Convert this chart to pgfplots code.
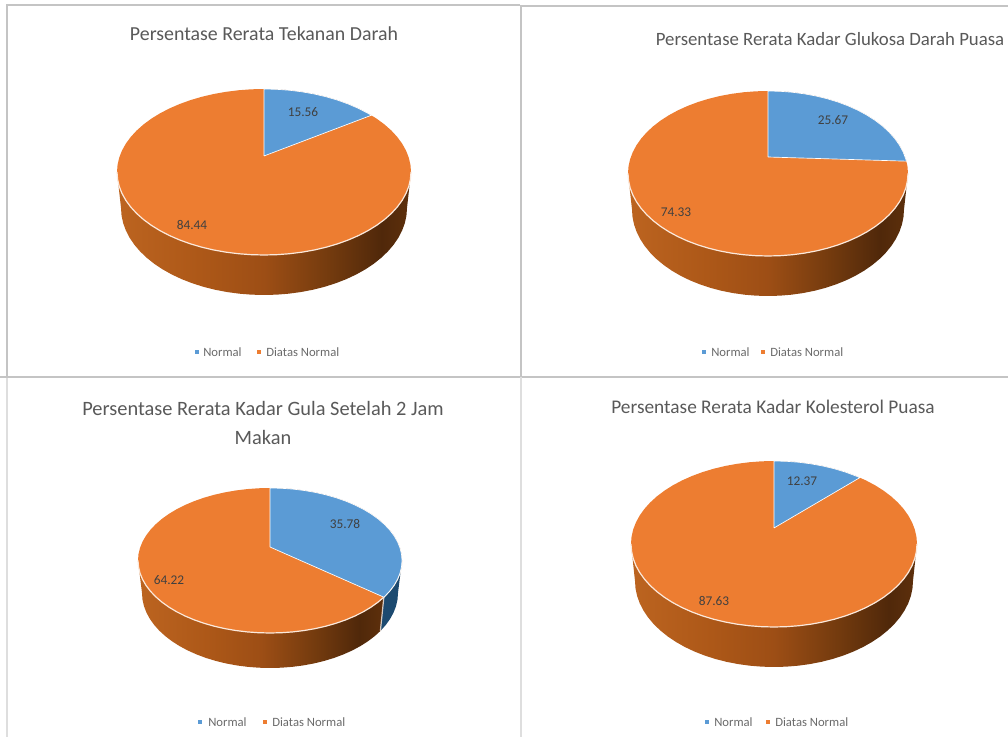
\documentclass[border=0pt]{standalone}
\usepackage{fontspec}
\setmainfont{Carlito}
\usepackage{pgfplots}
\pgfplotsset{compat=1.18}
\usepackage{pgfplotstable}

\definecolor{pieblue}{HTML}{5B9BD5}
\definecolor{pieorange}{HTML}{ED7D31}
\definecolor{bluedark}{HTML}{1C4A70}
\definecolor{rim}{HTML}{FBE9DC}
\definecolor{frame}{HTML}{C4C4C4}
\definecolor{framelow}{HTML}{DEDEDE}
\definecolor{titlecol}{HTML}{595959}
\definecolor{legcol}{HTML}{6A6A6A}
\definecolor{valcol}{HTML}{404040}
\definecolor{sa}{HTML}{BC6420}
\definecolor{sb}{HTML}{AD5818}
\definecolor{sc}{HTML}{9D4E15}
\definecolor{sd}{HTML}{723A0E}
\definecolor{se}{HTML}{50280A}
\definecolor{sf}{HTML}{5E300C}
\pgfdeclarehorizontalshading{pieside}{100bp}{color(0bp)=(sa); color(25bp)=(sa); color(39bp)=(sb); color(50bp)=(sc); color(61.5bp)=(sd); color(70bp)=(se); color(75bp)=(sf); color(100bp)=(sf)}

% t: angle clockwise from the top, r: share of the radius, s: 0 top rim, 1 bottom rim
\pgfplotstableread[row sep=\\]{t r s\\
0 1 0\\5 1 0\\10 1 0\\15 1 0\\20 1 0\\25 1 0\\30 1 0\\35 1 0\\40 1 0\\45 1 0\\50 1 0\\55 1 0\\60 1 0\\65 1 0\\70 1 0\\75 1 0\\80 1 0\\85 1 0\\
90 1 0\\95 1 0\\100 1 0\\105 1 0\\110 1 0\\115 1 0\\120 1 0\\125 1 0\\130 1 0\\135 1 0\\140 1 0\\145 1 0\\150 1 0\\155 1 0\\160 1 0\\165 1 0\\170 1 0\\175 1 0\\
180 1 0\\185 1 0\\190 1 0\\195 1 0\\200 1 0\\205 1 0\\210 1 0\\215 1 0\\220 1 0\\225 1 0\\230 1 0\\235 1 0\\240 1 0\\245 1 0\\250 1 0\\255 1 0\\260 1 0\\265 1 0\\
270 1 0\\275 1 0\\280 1 0\\285 1 0\\290 1 0\\295 1 0\\300 1 0\\305 1 0\\310 1 0\\315 1 0\\320 1 0\\325 1 0\\330 1 0\\335 1 0\\340 1 0\\345 1 0\\350 1 0\\355 1 0\\360 1 0\\
}\disc
\pgfplotstableread[row sep=\\]{t r s\\
90 1 0\\95 1 0\\100 1 0\\105 1 0\\110 1 0\\115 1 0\\120 1 0\\125 1 0\\130 1 0\\135 1 0\\140 1 0\\145 1 0\\150 1 0\\155 1 0\\160 1 0\\165 1 0\\170 1 0\\175 1 0\\
180 1 0\\185 1 0\\190 1 0\\195 1 0\\200 1 0\\205 1 0\\210 1 0\\215 1 0\\220 1 0\\225 1 0\\230 1 0\\235 1 0\\240 1 0\\245 1 0\\250 1 0\\255 1 0\\260 1 0\\265 1 0\\270 1 0\\
}\rimline
\pgfplotstableread[row sep=\\]{t r s\\
90 1 0\\90 1 1\\95 1 1\\100 1 1\\105 1 1\\110 1 1\\115 1 1\\120 1 1\\125 1 1\\130 1 1\\135 1 1\\140 1 1\\145 1 1\\150 1 1\\155 1 1\\160 1 1\\165 1 1\\170 1 1\\175 1 1\\
180 1 1\\185 1 1\\190 1 1\\195 1 1\\200 1 1\\205 1 1\\210 1 1\\215 1 1\\220 1 1\\225 1 1\\230 1 1\\235 1 1\\240 1 1\\245 1 1\\250 1 1\\255 1 1\\260 1 1\\265 1 1\\270 1 1\\270 1 0\\
}\sidefull
% third pie: the blue slice reaches round past the right edge
\pgfplotstableread[row sep=\\]{t r s\\
120.4 1 0\\120.4 1 1\\125 1 1\\130 1 1\\135 1 1\\140 1 1\\145 1 1\\150 1 1\\155 1 1\\160 1 1\\165 1 1\\170 1 1\\175 1 1\\
180 1 1\\185 1 1\\190 1 1\\195 1 1\\200 1 1\\205 1 1\\210 1 1\\215 1 1\\220 1 1\\225 1 1\\230 1 1\\235 1 1\\240 1 1\\245 1 1\\250 1 1\\255 1 1\\260 1 1\\265 1 1\\270 1 1\\270 1 0\\
}\sideorange
\pgfplotstableread[row sep=\\]{t r s\\
90 1 0\\90 1 1\\95 1 1\\100 1 1\\105 1 1\\110 1 1\\115 1 1\\120 1 1\\120.4 1 1\\120.4 1 0\\
}\sideblue
\pgfplotstableread[row sep=\\]{t r s\\
120.4 1 0\\120.4 1 1\\
}\sideedge

% blue slices, 15.56 / 25.67 / 35.78 / 12.37 read along the drawn ellipse
\pgfplotstableread[row sep=\\]{t r s\\
0 0.193 0\\0 1 0\\5 1 0\\10 1 0\\15 1 0\\20 1 0\\25 1 0\\30 1 0\\35 1 0\\40 1 0\\45 1 0\\46.9 1 0\\0 0.193 0\\
}\sliceA
\pgfplotstableread[row sep=\\]{t r s\\
0 0.2 0\\0 1 0\\5 1 0\\10 1 0\\15 1 0\\20 1 0\\25 1 0\\30 1 0\\35 1 0\\40 1 0\\45 1 0\\50 1 0\\55 1 0\\60 1 0\\65 1 0\\70 1 0\\75 1 0\\80 1 0\\81.4 1 0\\0 0.2 0\\
}\sliceB
\pgfplotstableread[row sep=\\]{t r s\\
0 0.186 0\\0 1 0\\5 1 0\\10 1 0\\15 1 0\\20 1 0\\25 1 0\\30 1 0\\35 1 0\\40 1 0\\45 1 0\\50 1 0\\55 1 0\\60 1 0\\65 1 0\\70 1 0\\75 1 0\\80 1 0\\85 1 0\\90 1 0\\95 1 0\\100 1 0\\105 1 0\\110 1 0\\115 1 0\\120 1 0\\120.4 1 0\\0 0.186 0\\
}\sliceC
\pgfplotstableread[row sep=\\]{t r s\\
0 0.193 0\\0 1 0\\5 1 0\\10 1 0\\15 1 0\\20 1 0\\25 1 0\\30 1 0\\35 1 0\\36.9 1 0\\0 0.193 0\\
}\sliceD

\newcommand{\setpie}[7]{\def\cx{#1}\def\cy{#2}\def\ra{#3}\def\rb{#4}\def\dep{#5}\def\rc{#6}\def\rd{#7}}
\newcommand{\piepart}[2]{\addplot[#1] table[
    x expr={\cx+(\ra+\thisrow{s}*(\rc-\ra))*\thisrow{r}*sin(\thisrow{t})},
    y expr={\cy+\thisrow{s}*\dep-(\rb+\thisrow{s}*(\rd-\rb))*\thisrow{r}*cos(\thisrow{t})}] {#2};}
\newcommand{\titlenode}[4]{\node[font=\fontsize{#3}{#3}\selectfont, text=titlecol, inner sep=0pt] at (axis cs:#1,#2) {#4};}
\newcommand{\legendrow}[5]{% y, blue marker x, Normal left x, orange marker x, Diatas left x
  \addplot[only marks, mark=square*, mark size=1.3pt, pieblue] coordinates {(#2,#1)};
  \addplot[only marks, mark=square*, mark size=1.3pt, pieorange] coordinates {(#4,#1)};
  \node[anchor=west, inner sep=0pt, font=\fontsize{9.5}{9.5}\selectfont, text=legcol] at (axis cs:#3,#1) {Normal};
  \node[anchor=west, inner sep=0pt, font=\fontsize{9.5}{9.5}\selectfont, text=legcol] at (axis cs:#5,#1) {Diatas Normal};
}
\newcommand{\val}[3]{\node[font=\fontsize{10}{10}\selectfont, text=valcol, inner sep=0pt] at (axis cs:#1,#2) {#3};}

\begin{document}
\begin{tikzpicture}
\useasboundingbox (0,0) rectangle (756pt,552.75pt);
\begin{axis}[
    at={(0,0)}, anchor=south west,
    scale only axis, width=756pt, height=552.75pt,
    xmin=0, xmax=1008, ymin=0, ymax=737, y dir=reverse,
    hide axis, clip=true,
  ]
  % panel frames
  \addplot[frame, line width=1.3pt] coordinates {(7,377) (7,5) (520,5)};
  \addplot[framelow, line width=1.3pt] coordinates {(7,377) (7,737)};
  \addplot[frame, line width=1.3pt] coordinates {(0,377) (1008,377)};
  \addplot[frame, line width=1pt] coordinates {(521,377) (521,6) (1008,6)};
  \addplot[framelow, line width=1pt] coordinates {(521,377) (521,737)};

  % Tekanan Darah
  \setpie{264}{172}{147}{83}{36}{143}{87}
  \piepart{draw=none, shade, shading=pieside}{\sidefull}
  \piepart{draw=none, fill=pieorange}{\disc}
  \piepart{rim, line width=0.9pt}{\rimline}
  \piepart{white, line width=0.5pt, fill=pieblue}{\sliceA}
  \val{303}{112}{15.56}
  \val{192}{225}{84.44}

  % Kadar Glukosa Darah Puasa
  \setpie{768}{173.5}{140}{82.5}{36}{136}{86.5}
  \piepart{draw=none, shade, shading=pieside}{\sidefull}
  \piepart{draw=none, fill=pieorange}{\disc}
  \piepart{rim, line width=0.9pt}{\rimline}
  \piepart{white, line width=0.5pt, fill=pieblue}{\sliceB}
  \val{833}{120}{25.67}
  \val{676}{212}{74.33}

  % Kadar Gula Setelah 2 Jam Makan
  \setpie{270}{560.5}{132}{72.5}{32.5}{128}{75}
  \piepart{draw=none, shade, shading=pieside}{\sideorange}
  \piepart{draw=none, fill=bluedark}{\sideblue}
  \piepart{rim!70!gray, line width=0.9pt}{\sideedge}
  \piepart{draw=none, fill=pieorange}{\disc}
  \piepart{rim, line width=0.9pt}{\rimline}
  \piepart{white, line width=0.5pt, fill=pieblue}{\sliceC}
  \val{345}{524}{35.78}
  \val{169}{580}{64.22}

  % Kadar Kolesterol Puasa
  \setpie{774}{544}{143}{83}{37}{139}{86}
  \piepart{draw=none, shade, shading=pieside}{\sidefull}
  \piepart{draw=none, fill=pieorange}{\disc}
  \piepart{rim, line width=0.9pt}{\rimline}
  \piepart{white, line width=0.5pt, fill=pieblue}{\sliceD}
  \val{802}{481}{12.37}
  \val{714}{601}{87.63}

  % titles
  \titlenode{264}{34}{14.9}{Persentase Rerata Tekanan Darah}
  \titlenode{830}{39}{14.1}{Persentase Rerata Kadar Glukosa Darah Puasa}
  \titlenode{263}{408}{15.3}{Persentase Rerata Kadar Gula Setelah 2 Jam}
  \titlenode{263}{437}{15.3}{Makan}
  \titlenode{773}{407}{14.5}{Persentase Rerata Kadar Kolesterol Puasa}

  % legends
  \legendrow{352}{197}{203}{259}{266}
  \legendrow{352}{704}{711}{763}{770}
  \legendrow{722}{200}{208}{265}{272}
  \legendrow{722}{707}{714}{768}{775}
\end{axis}
\end{tikzpicture}
\end{document}
